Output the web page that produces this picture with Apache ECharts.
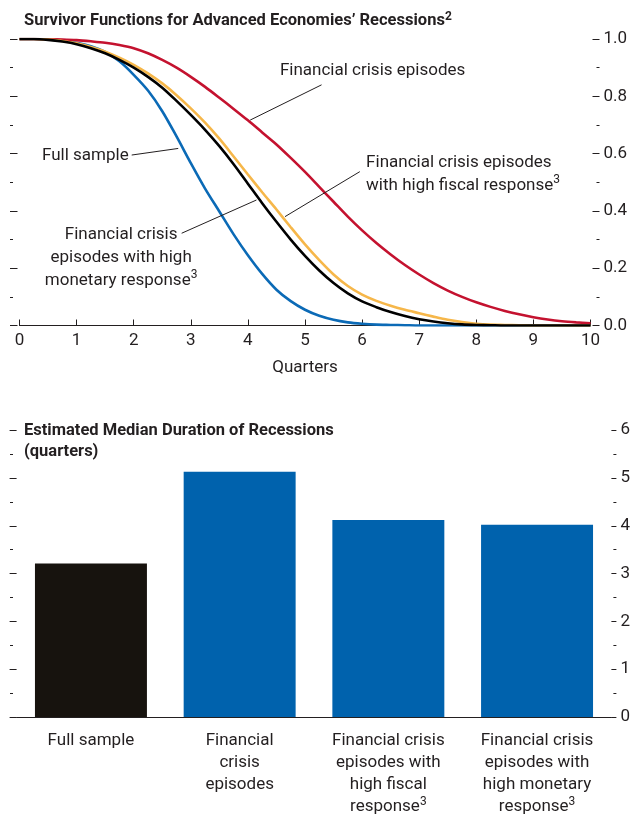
<!DOCTYPE html>
<html><head><meta charset="utf-8">
<script src="https://cdn.jsdelivr.net/npm/echarts@6/dist/echarts.min.js"></script>
<style>html,body{margin:0;padding:0;background:#fff}#c{width:630px;height:815px}</style>
</head><body><div id="c"></div>
<script>
// ---- Data ----
const quarters = [0,0.25,0.5,0.75,1,1.25,1.5,1.75,2,2.25,2.5,2.75,3,3.25,3.5,3.75,4,4.25,4.5,4.75,5,
                  5.25,5.5,5.75,6,6.25,6.5,6.75,7,7.25,7.5,7.75,8,8.25,8.5,8.75,9,9.25,9.5,9.75,10];
const fullSample = [1,1,0.998,0.994,0.987,0.975,0.955,0.922,0.875,0.82,0.748,0.66,0.567,0.478,0.398,0.318,0.245,0.18,0.125,0.085,0.055,
                    0.034,0.02,0.011,0.006,0.003,0.002,0.001,0,0,0,0,0,0,0,0,0,0,0,0,0];
const financialCrisis = [1,1,0.999,0.998,0.996,0.992,0.987,0.979,0.968,0.95,0.927,0.9,0.868,0.833,0.795,0.756,0.716,0.674,0.632,0.585,0.536,
                    0.484,0.432,0.38,0.332,0.288,0.248,0.211,0.178,0.148,0.122,0.1,0.081,0.065,0.051,0.039,0.029,0.021,0.015,0.011,0.008];
const highFiscal = [1,1,0.998,0.993,0.985,0.972,0.956,0.935,0.91,0.88,0.845,0.804,0.758,0.708,0.652,0.59,0.527,0.465,0.405,0.343,0.283,
                    0.228,0.178,0.138,0.108,0.086,0.069,0.055,0.043,0.031,0.02,0.012,0.006,0.003,0.002,0.001,0,0,0,0,0];
const highMonetary = [1,1,0.997,0.991,0.982,0.968,0.95,0.927,0.9,0.868,0.83,0.784,0.735,0.683,0.626,0.563,0.495,0.427,0.362,0.3,0.243,
                    0.192,0.148,0.112,0.084,0.064,0.047,0.033,0.022,0.014,0.008,0.004,0.002,0.001,0,0,0,0,0,0,0];
const barCategories = [
  'Full sample',
  'Financial\ncrisis\nepisodes',
  'Financial crisis\nepisodes with\nhigh fiscal\nresponse{sup|3}',
  'Financial crisis\nepisodes with\nhigh monetary\nresponse{sup|3}'
];
const medianDuration = [3.21, 5.13, 4.12, 4.02];

// ---- Style ----
const FONT = "Roboto,'Liberation Sans',sans-serif";
const TXT = '#231f20';
const FS = 17;
const supStyle = { fontSize: 12, fontFamily: FONT, color: TXT, verticalAlign: 'top', lineHeight: 12 };
const pair = arr => quarters.map((q,i)=>[q, arr[i]]);

const chart = echarts.init(document.getElementById('c'), null, {renderer:'canvas'});

function tickAxis(grid, pos, offset, interval, len, max, labels, margin){
  return {
    gridIndex: grid, type: 'value', position: pos, offset: offset,
    min: 0, max: max, interval: interval,
    axisLine: {show:false, onZero:false},
    axisTick: {show:true, inside:false, length: len, lineStyle:{color:TXT, width:1}},
    axisLabel: labels ? {show:true, margin: margin, color: TXT, fontFamily: FONT, fontSize: FS,
      formatter: v => max === 1 ? v.toFixed(1) : String(v)} : {show:false},
    splitLine: {show:false}
  };
}

const lineSeries = (name, arr, color) => ({
  name, type: 'line', xAxisIndex: 0, yAxisIndex: 0, data: pair(arr),
  smooth: 0.3, showSymbol: false,
  lineStyle: {color, width: 2.6}, itemStyle: {color}
});

const option = {
  animation: false,
  backgroundColor: '#fff',
  title: [
    { text: '{t|Survivor Functions for Advanced Economies\u2019 Recessions}{sup|2}', left: 24, top: 11, padding: 0,
      textStyle: { rich: { t: {fontFamily: FONT, fontWeight:'bold', fontSize: 16.5, color: TXT, lineHeight: 20},
                           sup: {fontFamily: FONT, fontWeight:'bold', fontSize: 12, color: TXT, verticalAlign:'top', lineHeight: 12} } } },
    { text: 'Estimated Median Duration of Recessions\n(quarters)', left: 24, top: 420, padding: 0,
      textStyle: { fontFamily: FONT, fontWeight:'bold', fontSize: 16.5, color: TXT, lineHeight: 21 } }
  ],
  grid: [
    { left: 19.5, right: 39.5, top: 39, height: 286.5, outerBoundsMode: 'none', containLabel: false },
    { left: 16.6, right: 18.6, top: 430.2, height: 286.8, outerBoundsMode: 'none', containLabel: false }
  ],
  xAxis: [
    { gridIndex: 0, type: 'value', min: 0, max: 10, interval: 1,
      axisLine: {show:true, onZero:false, lineStyle:{color:TXT, width:1}},
      axisTick: {show:true, inside:true, length: 6, lineStyle:{color:TXT}},
      axisLabel: {margin: 7, color: TXT, fontFamily: FONT, fontSize: FS},
      splitLine: {show:false},
      name: 'Quarters', nameLocation: 'middle', nameGap: 34,
      nameTextStyle: {color: TXT, fontFamily: FONT, fontSize: FS} },
    { gridIndex: 1, type: 'category', data: barCategories,
      axisLine: {show:true, onZero:false, lineStyle:{color:TXT, width:1}},
      axisTick: {show:false},
      axisLabel: {interval: 0, margin: 13, color: TXT, fontFamily: FONT, fontSize: FS, lineHeight: 22,
        rich: { sup: supStyle } } }
  ],
  yAxis: [
    tickAxis(0, 'right', 2, 0.2, 6, 1, true, 11),
    tickAxis(0, 'right', 6, 0.1, 3, 1, false),
    tickAxis(0, 'left', 2, 0.2, 7, 1, false),
    tickAxis(0, 'left', 6.5, 0.1, 3, 1, false),
    tickAxis(1, 'right', 0, 1, 4, 6, true, 9),
    tickAxis(1, 'right', 2, 0.5, 3, 6, false),
    tickAxis(1, 'left', 0, 1, 7, 6, false),
    tickAxis(1, 'left', 3.6, 0.5, 3, 6, false)
  ],
  series: [
    lineSeries('Full sample', fullSample, '#0b6ab6'),
    lineSeries('Financial crisis episodes', financialCrisis, '#c4122f'),
    lineSeries('High fiscal response', highFiscal, '#f6b74a'),
    Object.assign(lineSeries('High monetary response', highMonetary, '#000000'), {
      markLine: {
        silent: true, symbol: ['none','none'], label: {show:false},
        lineStyle: {color: TXT, width: 1, type: 'solid'},
        data: [
          [{coord:[5.29,0.840]},{coord:[4.04,0.717]}],
          [{coord:[1.965,0.595]},{coord:[2.78,0.618]}],
          [{coord:[5.96,0.537]},{coord:[4.65,0.38]}],
          [{coord:[2.84,0.322]},{coord:[4.15,0.438]}]
        ]
      },
      markPoint: {
        silent: true, symbol: 'circle', symbolSize: 1, itemStyle: {color: 'rgba(0,0,0,0)'},
        label: {show: true, position: 'inside', color: TXT, fontFamily: FONT, fontSize: FS, lineHeight: 23,
          rich: { sup: supStyle }},
        data: [
          {coord:[4.56,0.888], label:{formatter:'Financial crisis episodes', align:'left', verticalAlign:'middle'}},
          {coord:[0.394,0.591], label:{formatter:'Full sample', align:'left', verticalAlign:'middle'}},
          {coord:[6.07,0.529], label:{formatter:'Financial crisis episodes\nwith high fiscal response{sup|3}', align:'left', verticalAlign:'middle'}},
          {coord:[1.78,0.236], label:{formatter:'Financial crisis\nepisodes with high\nmonetary response{sup|3}', align:'center', verticalAlign:'middle'}}
        ]
      }
    }),
    { name: 'Median duration', type: 'bar', xAxisIndex: 1, yAxisIndex: 4,
      barCategoryGap: '24.7%',
      data: medianDuration.map((v,i)=>({value: v, itemStyle:{color: i===0 ? '#17130e' : '#0062ad'}})) }
  ]
};
chart.setOption(option);
</script>
</body></html>
